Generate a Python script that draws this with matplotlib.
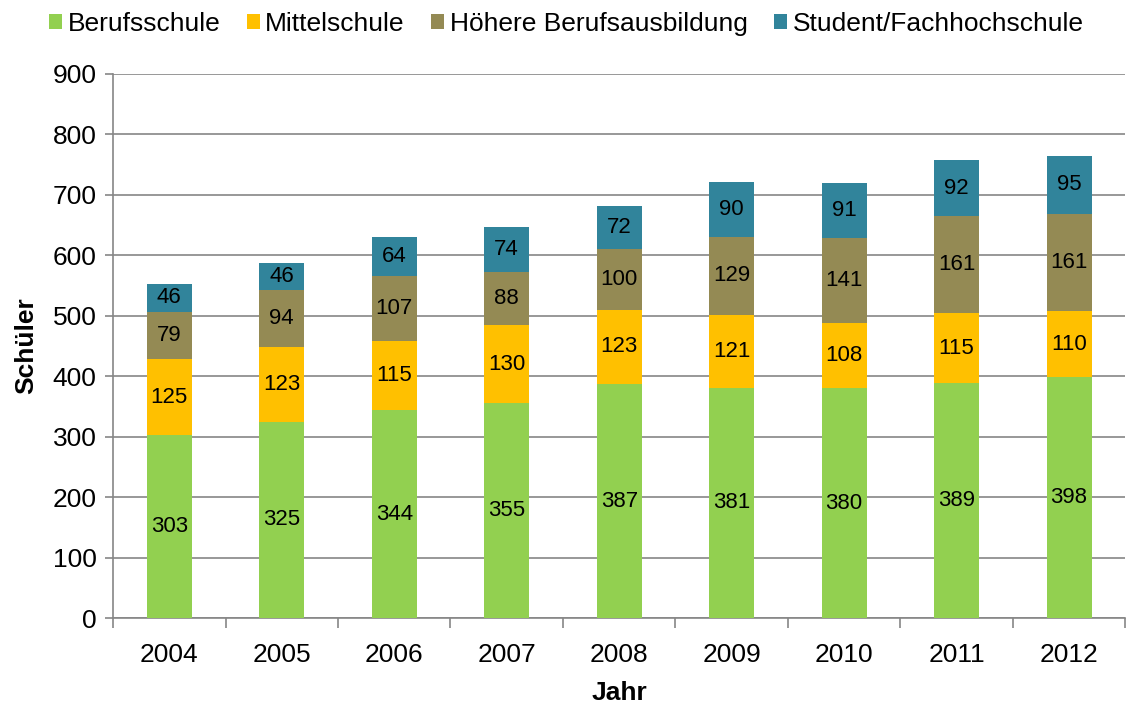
import matplotlib.pyplot as plt
import numpy as np

plt.rcParams['font.family'] = ['Liberation Sans', 'DejaVu Sans']

years = ['2004', '2005', '2006', '2007', '2008', '2009', '2010', '2011', '2012']
berufsschule = [303, 325, 344, 355, 387, 381, 380, 389, 398]
mittelschule = [125, 123, 115, 130, 123, 121, 108, 115, 110]
hoehere = [79, 94, 107, 88, 100, 129, 141, 161, 161]
student = [46, 46, 64, 74, 72, 90, 91, 92, 95]

series = [
    ('Berufsschule', berufsschule, '#92D050'),
    ('Mittelschule', mittelschule, '#FFC000'),
    ('Höhere Berufsausbildung', hoehere, '#948A54'),
    ('Student/Fachhochschule', student, '#31849B'),
]

fig = plt.figure(figsize=(11.26, 7.04), dpi=100)
ax = fig.add_axes([0.1004, 0.122, 0.899, 0.773])

x = np.arange(len(years))
bottom = np.zeros(len(years))
handles = []
for name, vals, col in series:
    bars = ax.bar(x, vals, 0.4, bottom=bottom, color=col, label=name, zorder=3)
    for xi, b, v in zip(x, bottom, vals):
        ax.text(xi, b + v / 2, str(v), ha='center', va='center', fontsize=16, zorder=4)
    bottom += np.array(vals)
    handles.append(bars)

ax.set_xlim(-0.5, len(years) - 0.5)
ax.set_ylim(0, 900)
ax.set_yticks(range(0, 901, 100))
ax.set_xticks(x)
ax.set_xticklabels(years)
ax.set_xticks(np.arange(-0.5, len(years), 1), minor=True)
ax.tick_params(axis='x', which='major', length=0, labelsize=19, pad=18)
ax.tick_params(axis='x', which='minor', length=7, color='#868686', width=1.2)
ax.tick_params(axis='y', length=6, color='#868686', width=1.2, labelsize=19, pad=6)
ax.grid(axis='y', color='#868686', linewidth=1.2, zorder=0)

for s in ['top', 'right']:
    ax.spines[s].set_visible(False)
for s in ['left', 'bottom']:
    ax.spines[s].set_color('#868686')
    ax.spines[s].set_linewidth(1.2)

ax.set_ylabel('Schüler', fontsize=19, fontweight='bold', labelpad=10)
ax.set_xlabel('Jahr', fontsize=19, fontweight='bold', labelpad=10)

fig.legend(handles=handles, loc='upper center', bbox_to_anchor=(0.503, 1.017), ncol=4,
           frameon=False, fontsize=19, handlelength=0.5, handleheight=0.5,
           handletextpad=0.2, columnspacing=1.0)

fig.savefig('out.png', dpi=100)
